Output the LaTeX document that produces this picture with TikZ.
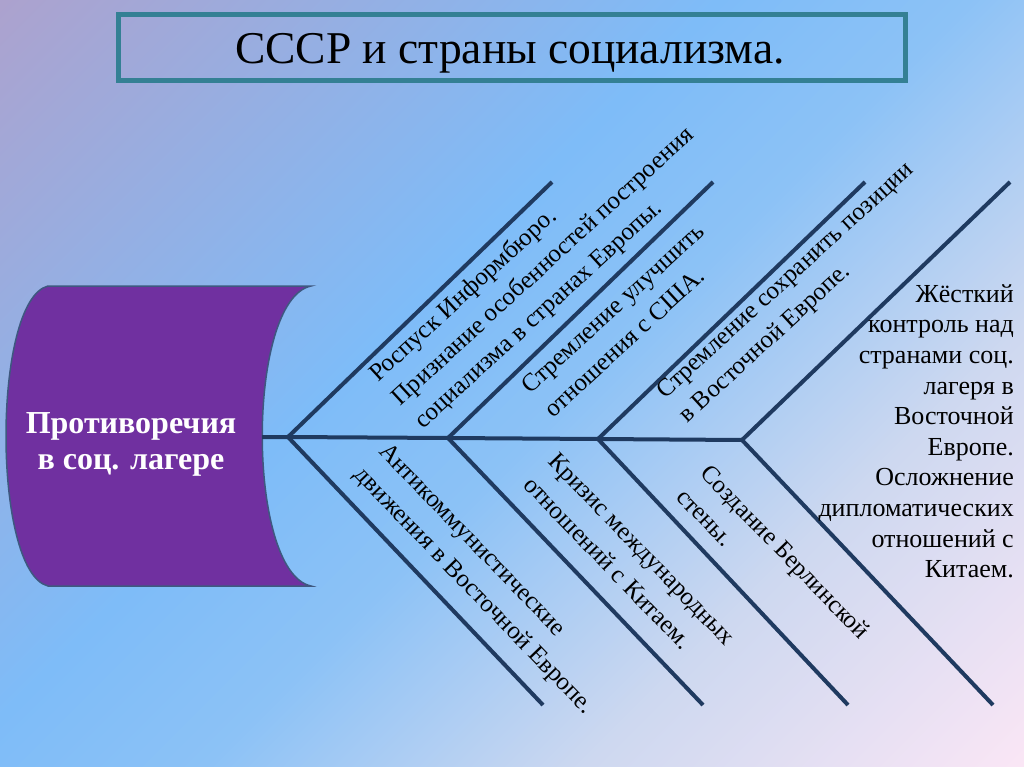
\documentclass[tikz,border=0pt]{standalone}
\usepackage{fontspec}
\setmainfont{Liberation Serif}
\definecolor{bgA}{RGB}{172,162,206}
\definecolor{bgB}{RGB}{126,188,248}
\definecolor{bgC}{RGB}{140,194,246}
\definecolor{bgD}{RGB}{205,216,240}
\definecolor{bgE}{RGB}{250,230,245}
\definecolor{boneC}{RGB}{31,58,96}
\definecolor{titleC}{RGB}{52,128,148}
\definecolor{capFill}{RGB}{112,48,160}
\definecolor{capBorder}{RGB}{62,88,128}
\pgfdeclarehorizontalshading{bgshade}{100bp}{color(0bp)=(bgA); color(14.6bp)=(bgA); color(43bp)=(bgB); color(53bp)=(bgC); color(68bp)=(bgD); color(85.4bp)=(bgE); color(100bp)=(bgE)}
\begin{document}
\begin{tikzpicture}[x=1pt,y=-1pt,
  bone/.style={draw=boneC, line width=4pt, line join=miter},
  lbl/.style={font=\fontsize{25}{30}\selectfont, inner sep=0pt, text=black},
  up/.style={lbl, rotate=42.5, anchor=base west},
  down/.style={lbl, rotate=-46, anchor=base west}]
\useasboundingbox (0,0) rectangle (1024,767);
\shade[shading=bgshade, shading angle=-45] (0,0) rectangle (1024,767);
% title
\node[draw=titleC, line width=5pt, minimum width=787pt, minimum height=66pt, inner sep=0pt] (tbox) at (512,47.5) {};
\node[font=\fontsize{45.5}{54}\selectfont, anchor=base, inner sep=0pt] (title) at (510,64) {СССР и страны социализма.};
% head
\draw[draw=capBorder, line width=1.5pt, fill=capFill] (48,286) -- (311,286) .. controls (246,300) and (246,572) .. (311,586) -- (48,586) .. controls (-8,572) and (-8,300) .. cycle;
\node[font=\bfseries\fontsize{32}{36}\selectfont, text=white, align=center, anchor=north, inner sep=0pt] (head) at (131,407.8) {\strut Противоречия\\в соц. лагере};
% skeleton
\coordinate (capR) at (262,437);
\coordinate (j1) at (288,437);
\coordinate (j2) at (448,438);
\coordinate (j3) at (598,439);
\coordinate (j4) at (742,440);
\coordinate (u1) at (552,182);
\coordinate (u2) at (713,182);
\coordinate (u3) at (865,182);
\coordinate (u4) at (1010,182);
\coordinate (d1) at (543,705);
\coordinate (d2) at (703,705);
\coordinate (d3) at (848,705);
\coordinate (d4) at (993,705);
\draw[bone] (capR) -- (j1) -- (j2) -- (j3) -- (j4);
\draw[bone] (j1) -- (u1);
\draw[bone] (j2) -- (u2);
\draw[bone] (j3) -- (u3);
\draw[bone] (j4) -- (u4);
\draw[bone] (j1) -- (d1);
\draw[bone] (j2) -- (d2);
\draw[bone] (j3) -- (d3);
\draw[bone] (j4) -- (d4);
% upper labels
\node[up] (t1a) at (378,383) {Роспуск Информбюро.};
\node[up] (t1b) at (400.5,406.5) {Признание особенностей построения};
\node[up] (t1c) at (423,430) {социализма в странах Европы.};
\node[up] (t2a) at (530,395) {Стремление улучшить};
\node[up] (t2b) at (553,418.5) {отношения с США.};
\node[up] (t3a) at (665,400) {Стремление сохранить позиции};
\node[up] (t3b) at (687.5,423.5) {в Восточной Европе.};
% lower labels
\node[down] (b1a) at (378,452) {Антикоммунистические};
\node[down] (b1b) at (353.6,475.6) {движения в Восточной Европе.};
\node[down] (b2a) at (547,462) {Кризис международных};
\node[down] (b2b) at (522.5,486) {отношений с Китаем.};
\node[down] (b3a) at (699,474) {Создание Берлинской};
\node[down] (b3b) at (675,498) {стены.};
% right text
\node[font=\fontsize{26}{30.6}\selectfont, inner sep=0pt, align=right, anchor=north east] (rt) at (1014,280.6) {\strut Жёсткий\\контроль над\\странами соц.\\лагеря в\\Восточной\\Европе.\\Осложнение\\дипломатических\\отношений с\\Китаем.};
\end{tikzpicture}
\end{document}
